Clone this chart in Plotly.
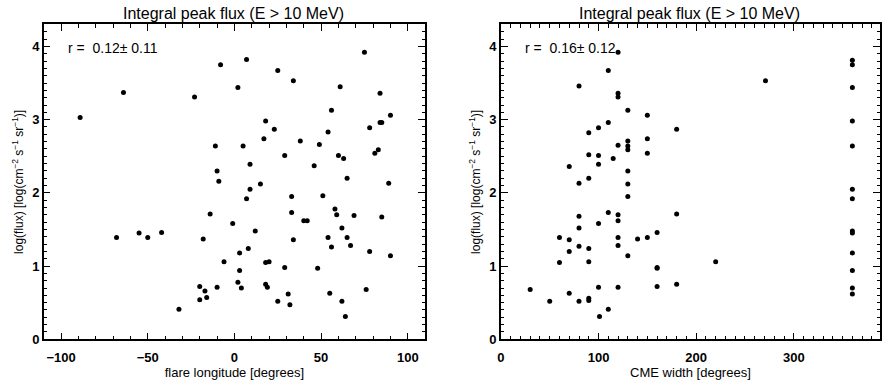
import plotly.graph_objects as go

W, H = 882, 383

# Left panel: flare longitude vs log(flux)
flare_longitude = [-89, -64, -68, -55, -50, -42, -32, -23, -20, -20, -18, -17, -16, -14, -11, -10,
                   -10, -9, -8, -6, -1, 2, 2, 3, 3, 4, 5, 7, 7, 8, 9, 9, 12, 15, 17, 18, 18, 18,
                   19, 20, 23, 25, 25, 29, 29, 31, 32, 33, 33, 34, 34, 38, 40, 42, 46, 48, 49, 51,
                   54, 54, 55, 56, 56, 58, 59, 60, 61, 62, 62, 63, 64, 65, 65, 67, 69, 75, 76, 78,
                   78, 81, 83, 84, 84, 85, 85, 89, 90, 90]
flux_longitude = [3.03, 3.37, 1.39, 1.45, 1.39, 1.46, 0.41, 3.31, 0.72, 0.54, 1.37, 0.66, 0.57,
                  1.71, 2.64, 2.30, 0.71, 2.16, 3.75, 1.06, 1.58, 3.44, 0.78, 1.18, 0.94, 0.70,
                  2.64, 3.82, 1.92, 1.24, 2.39, 2.05, 1.48, 2.12, 2.74, 2.98, 1.05, 0.75, 0.71,
                  1.06, 2.87, 3.67, 0.52, 2.51, 0.98, 0.62, 0.47, 1.95, 1.73, 3.53, 1.36, 2.71,
                  1.62, 1.62, 2.37, 0.97, 2.66, 1.96, 2.83, 1.39, 0.63, 3.13, 1.26, 1.78, 1.70,
                  2.51, 3.45, 1.52, 0.52, 2.47, 0.31, 2.20, 1.39, 1.28, 1.69, 3.92, 0.68, 2.89,
                  1.20, 2.54, 2.59, 3.36, 2.96, 2.96, 1.67, 2.13, 3.06, 1.14]

# Right panel: CME width vs log(flux)
cme_width = [30, 50, 60, 60, 70, 70, 70, 70, 80, 80, 80, 80, 80, 80, 90, 90, 90, 90, 90, 90, 90,
             100, 100, 100, 100, 100, 101, 110, 110, 110, 110, 115, 120, 120, 120, 120, 120, 120,
             120, 120, 120, 130, 130, 130, 130, 130, 130, 130, 130, 140, 150, 150, 150, 150,
             160, 160, 160, 160, 180, 180, 180, 220, 271,
             360, 360, 360, 360, 360, 360, 360, 360, 360, 360, 360, 360, 360]
flux_width = [0.68, 0.52, 1.39, 1.05, 2.36, 1.36, 1.20, 0.63, 3.46, 2.13, 1.68, 1.52, 1.27, 0.52,
              2.82, 2.52, 2.20, 1.24, 1.06, 0.56, 0.53, 2.89, 2.51, 2.39, 1.58, 0.71, 0.31,
              3.67, 2.96, 1.73, 0.41, 2.47, 3.92, 3.36, 3.31, 2.65, 1.70, 1.62, 1.39, 1.28, 0.71,
              3.13, 2.71, 2.64, 2.59, 2.30, 2.12, 1.95, 1.14, 1.37, 3.06, 2.74, 2.54, 1.39,
              1.46, 0.98, 0.97, 0.72, 2.87, 1.71, 0.75, 1.06, 3.53,
              3.81, 3.75, 3.44, 2.98, 2.64, 2.05, 1.92, 1.48, 1.45, 1.18, 0.94, 0.70, 0.62]

titles = ["Integral peak flux (E > 10 MeV)", "Integral peak flux (E > 10 MeV)"]
corr_labels = ["r =  0.12\u00b1 0.11", "r =  0.16\u00b1 0.12"]
x_titles = ["flare longitude [degrees]", "CME width [degrees]"]
y_title = "log(flux) [log(cm<sup>\u22122</sup> s<sup>\u22121</sup> sr<sup>\u22121</sup>)]"

FONT = "Liberation Sans"

def px_x(p):
    return p / W

def px_y(p):
    return 1 - p / H

left_dom = [px_x(40), px_x(424)]
right_dom = [px_x(500.3), 1.0]
y_dom = [px_y(346.5), px_y(25)]

axis_common = dict(
    showline=True, linecolor="black", linewidth=1.5, mirror="ticks",
    ticks="inside", ticklen=7, tickwidth=1, tickcolor="black",
    showgrid=False, zeroline=False,
    tickfont=dict(family=FONT, size=13, color="black", weight="bold"),
)

def minor(dt):
    return dict(ticks="inside", ticklen=3.5, tickcolor="black", tickwidth=1,
                dtick=dt, tick0=0, showgrid=False)

xtitle_font = dict(family=FONT, size=13, color="black")
ytitle_font = dict(family=FONT, size=12, color="black")

fig = go.Figure()
fig.add_trace(go.Scatter(x=flare_longitude, y=flux_longitude, mode="markers",
                         marker=dict(color="black", size=5), xaxis="x", yaxis="y",
                         showlegend=False))
fig.add_trace(go.Scatter(x=cme_width, y=flux_width, mode="markers",
                         marker=dict(color="black", size=5), xaxis="x2", yaxis="y2",
                         showlegend=False))

fig.update_layout(
    width=W, height=H, autosize=False,
    margin=dict(l=0, r=0, t=0, b=0),
    paper_bgcolor="white", plot_bgcolor="white",
    xaxis=dict(axis_common, domain=left_dom, range=[-110, 110], tick0=0, dtick=50,
               anchor="y", ticklabelstandoff=5,
               title=dict(text=x_titles[0], standoff=1, font=xtitle_font),
               minor=minor(10)),
    yaxis=dict(axis_common, domain=y_dom, range=[0, 4.3], tick0=0, dtick=1,
               anchor="x", title=dict(text=y_title, standoff=6, font=ytitle_font),
               minor=minor(0.1)),
    xaxis2=dict(axis_common, domain=right_dom, range=[0, 388.3], tick0=0, dtick=100,
                anchor="y2", ticklabelstandoff=5,
                title=dict(text=x_titles[1], standoff=1, font=xtitle_font),
                minor=minor(10)),
    yaxis2=dict(axis_common, domain=y_dom, range=[0, 4.3], tick0=0, dtick=1,
                anchor="x2", title=dict(text=y_title, standoff=6, font=ytitle_font),
                minor=minor(0.1)),
)

annotations = []
for cx, t in zip([231, 690], titles):
    annotations.append(dict(text=t, x=px_x(cx), y=px_y(14), xref="paper", yref="paper",
                            xanchor="center", yanchor="middle", showarrow=False,
                            font=dict(family=FONT, size=16, color="black")))
for lx, t in zip([62, 522.7], corr_labels):
    annotations.append(dict(text=t, x=px_x(lx), y=px_y(49), xref="paper", yref="paper",
                            xanchor="left", yanchor="middle", showarrow=False,
                            font=dict(family=FONT, size=14, color="black")))
fig.update_layout(annotations=annotations)

fig.write_html("out.html")
